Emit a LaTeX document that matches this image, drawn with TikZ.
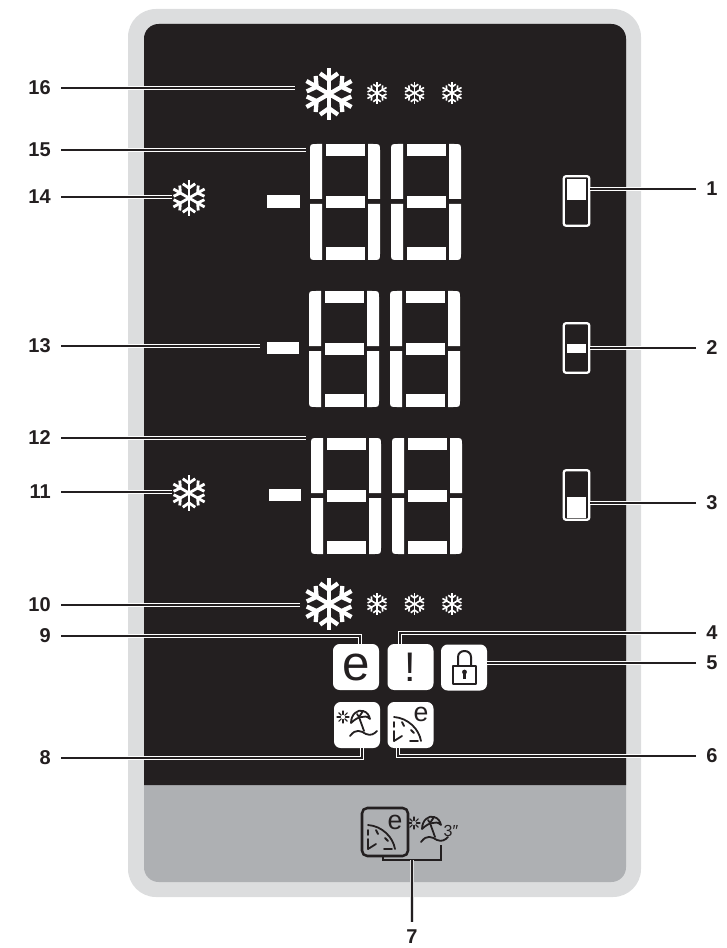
\documentclass[tikz,border=0pt]{standalone}
\usepackage{fontspec}
\setmainfont{Liberation Sans}
\definecolor{paneldark}{HTML}{231F20}
\definecolor{panelgray}{HTML}{AEB0B3}
\definecolor{rimgray}{HTML}{DCDDDE}
\tikzset{
  numlabel/.style={font=\fontsize{15}{16}\selectfont\bfseries, text=paneldark, inner xsep=7.5pt, inner ysep=0pt},
  leader/.style={draw=white, line width=.65pt, double=paneldark, double distance=2.1pt},
  iconbox/.style={fill=white, rounded corners=5pt, minimum size=34.5pt, inner sep=0pt, text=paneldark},
  levelbox/.style={draw=white, line width=1.7pt, rounded corners=1.5pt, minimum width=19pt, minimum height=37pt, inner sep=0pt},
  iconline/.style={draw=paneldark, line width=1.35pt, line cap=round, line join=round}
}
% snowflake: x, y, radius, line width
\newcommand{\flake}[4]{
  \foreach \ang in {30,90,...,330}{
    \draw[white, line width=#4] (#1,#2) -- +(\ang:#3);
    \draw[white, line width=#4] (#1,#2) ++(\ang:.55*#3) -- +(\ang+55:.42*#3);
    \draw[white, line width=#4] (#1,#2) ++(\ang:.55*#3) -- +(\ang-55:.42*#3);
  }
}
% one seven segment digit, upper left corner at x, y
\newcommand{\digit}[2]{
  \begin{scope}[shift={(#1,#2)}]
    \fill[white] (12,0) -- (7,0) .. controls (0,0) .. (0,7) -- (0,55) -- (12,55) -- cycle;
    \fill[white] (12,60) -- (0,60) -- (0,109) .. controls (0,116) .. (7,116) -- (12,116) -- cycle;
    \fill[white] (58,0) -- (63,0) .. controls (70,0) .. (70,7) -- (70,55) -- (58,55) -- cycle;
    \fill[white] (58,60) -- (70,60) -- (70,109) .. controls (70,116) .. (63,116) -- (58,116) -- cycle;
    \fill[white] (16,0) rectangle (55,12);
    \fill[white] (16,52) rectangle (55,64);
    \fill[white] (16,103) rectangle (55,116);
  \end{scope}
}
\newcommand{\clockicon}[3]{
  \begin{scope}[shift={(#1,#2)}]
    \draw[iconline, #3] (6,15) .. controls (20,16) and (31,27) .. (33,39);
    \draw[iconline, #3] (6,20) -- (6,25) (6,29) -- (6,39) -- (14,34);
    \draw[iconline, #3] (14,20) -- (16,24) (23,28) -- (26,31) (22,39) -- (30,39);
    \node[text=#3, font=\fontsize{20}{20}\selectfont] (clocke#1) at (33,12) {e};
  \end{scope}
}
\newcommand{\beachicon}[2]{
  \begin{scope}[shift={(#1,#2)}]
    \draw[iconline] (16,21) .. controls (16,12) and (23,7) .. (28,9) .. controls (32,10) and (34,13) .. (35,17) .. controls (32,14) and (29,14) .. (27,15) .. controls (24,15) and (20,17) .. (16,21);
    \draw[iconline] (22,12) -- (24,15) -- (28,9) (24,15) -- (29,29);
    \draw[iconline] (15,34) .. controls (21,26) and (26,29) .. (31,32) .. controls (36,34) and (39,32) .. (42,29);
    \foreach \ang in {0,45,...,315}{
      \draw[iconline, line width=.8pt] (8,15) ++(\ang:2.5) -- +(\ang:3.5);
    }
  \end{scope}
}
\begin{document}
\begin{tikzpicture}[x=.75pt, y=-.75pt]
  \useasboundingbox (0,0) rectangle (726,948);
  % panel
  \fill[rimgray, rounded corners=21pt] (128,9) rectangle (641,897);
  \fill[panelgray, rounded corners=11pt] (144,24) rectangle (626,882);
  \fill[paneldark] (144,785) [rounded corners=11pt] -- (144,24) -- (626,24) [sharp corners] -- (626,785) -- cycle;
  % flakes
  \flake{329}{94}{26}{3.2pt}
  \flake{329}{604}{26}{3.2pt}
  \foreach \fx in {377,414.5,452}{
    \flake{\fx}{93}{11}{1.2pt}
    \flake{\fx}{604}{11}{1.2pt}
  }
  \flake{189}{198}{18}{2.1pt}
  \flake{189}{493}{18}{2.1pt}
  % display digits
  \digit{310}{144}
  \digit{391}{144}
  \digit{309}{291}
  \digit{390}{291}
  \digit{311}{438}
  \digit{392}{438}
  \fill[white] (267,195) rectangle (300,208);
  \fill[white] (267,342) rectangle (299,354);
  \fill[white] (269,489) rectangle (301,501);
  % level boxes
  \node[levelbox] (level1) at (576.5,201) {};
  \node[levelbox] (level2) at (576.5,348) {};
  \node[levelbox] (level3) at (576.5,495) {};
  \fill[white] (567,179) rectangle (586,200);
  \fill[white] (567,344) rectangle (586,353);
  \fill[white] (567,497) rectangle (586,518);
  % icons
  \node[iconbox, font=\fontsize{37}{37}\selectfont] (boxe) at (356,667) {e};
  \node[iconbox, font=\fontsize{31}{31}\selectfont] (boxwarn) at (410.5,667) {!};
  \node[iconbox] (boxlock) at (464,667.5) {};
  \node[iconbox] (boxbeach) at (357,725) {};
  \node[iconbox] (boxclock) at (410.5,725) {};
  \draw[iconline, line width=1.5pt] (453,666) rectangle (476,684);
  \draw[iconline, line width=1.5pt] (458,666) -- (458,657) .. controls (458,649) and (471,649) .. (471,657) -- (471,666);
  \fill[paneldark] (464.5,672) circle (2.4);
  \fill[paneldark] (463,672) rectangle (466,679);
  \clockicon{388}{702}{paneldark}
  \beachicon{335}{702}
  % lower field
  \draw[paneldark, line width=1.9pt, rounded corners=4pt] (362,808) rectangle (408,856);
  \clockicon{362}{810}{paneldark}
  \beachicon{406}{808}
  \node[text=paneldark, font=\fontsize{12}{12}\selectfont] (threesec) at (451,831) {3″};
  % left labels
  \foreach \n/\yy/\xx in {16/88/295, 15/150/306, 14/197/172, 13/346/260, 12/438/306, 11/492/172, 10/605/300}{
    \node[numlabel, anchor=east] (lab\n) at (61,\yy) {\n};
    \coordinate (end\n) at (\xx,\yy);
    \draw[leader] (lab\n.east) -- (end\n);
  }
  \node[numlabel, anchor=east] (lab9) at (61,636) {9};
  \node[numlabel, anchor=east] (lab8) at (61,758) {8};
  \coordinate (end9) at (360,644);
  \coordinate (end8) at (362,748);
  \draw[leader] (lab9.east) -| (end9);
  \draw[leader] (lab8.east) -| (end8);
  % right labels
  \foreach \n/\yy/\xx in {1/189/590, 2/348/590, 3/503/590, 5/663/487}{
    \node[numlabel, anchor=west] (lab\n) at (696,\yy) {\n};
    \coordinate (end\n) at (\xx,\yy);
    \draw[leader] (lab\n.west) -- (end\n);
  }
  \node[numlabel, anchor=west] (lab4) at (696,633) {4};
  \node[numlabel, anchor=west] (lab6) at (696,756) {6};
  \coordinate (end4) at (400,644);
  \coordinate (end6) at (398,748);
  \draw[leader] (lab4.west) -| (end4);
  \draw[leader] (lab6.west) -| (end6);
  % label 7 and its bracket
  \node[numlabel, inner ysep=6pt] (lab7) at (412,937) {7};
  \coordinate (brackl) at (383,856);
  \coordinate (brackr) at (441,845);
  \coordinate (brackm) at (412,860);
  \draw[paneldark, line width=1.7pt] (brackl) |- (brackm) -| (brackr);
  \draw[leader, draw=rimgray] (brackm) -- (lab7.north);
\end{tikzpicture}
\end{document}
